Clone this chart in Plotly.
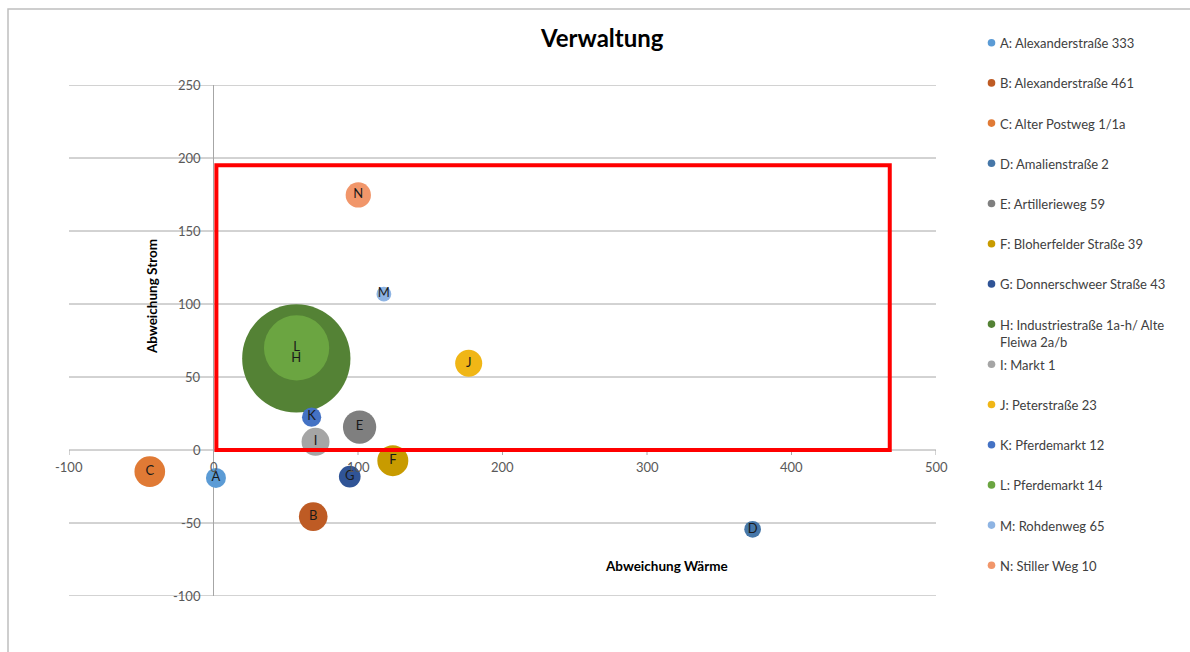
import textwrap
import plotly.graph_objects as go

# Verwaltungsgebäude: Abweichung Wärme (x), Abweichung Strom (y), Blasengröße
kuerzel = list("ABCDEFGHIJKLMN")
namen = [
    "A: Alexanderstraße 333",
    "B: Alexanderstraße 461",
    "C: Alter Postweg 1/1a",
    "D: Amalienstraße 2",
    "E: Artillerieweg 59",
    "F: Bloherfelder Straße 39",
    "G: Donnerschweer Straße 43",
    "H: Industriestraße 1a-h/ Alte Fleiwa 2a/b",
    "I: Markt 1",
    "J: Peterstraße 23",
    "K: Pferdemarkt 12",
    "L: Pferdemarkt 14",
    "M: Rohdenweg 65",
    "N: Stiller Weg 10",
]
abweichung_waerme = [1.7, 69.0, -44.1, 373.1, 101.1, 124.1, 94.3, 57.3, 70.6, 176.6, 67.9, 57.5, 117.9, 100.2]
abweichung_strom = [-19.1, -45.6, -14.8, -54.3, 15.7, -7.3, -18.2, 62.7, 5.6, 59.4, 22.5, 69.9, 106.8, 174.7]
groesse = [40, 82, 94, 28, 111, 96, 47, 1173, 78, 73, 37, 426, 22, 64]
farben = [
    "#5B9BD5", "#BE5B24", "#E07A35", "#4677A8", "#7F7F7F", "#C89B00", "#305496",
    "#548235", "#A5A5A5", "#F0B616", "#4472C4", "#6BA541", "#8EB4E3", "#F1966A",
]

x_ticks = [-100, 0, 100, 200, 300, 400, 500]
y_ticks = [-100, -50, 0, 50, 100, 150, 200, 250]

# Zielbereich (rot umrandet)
ziel_x = (2, 468)
ziel_y = (0, 195)

W, H = 1190, 652
PL, PR, PT, PB = 69, 936, 85, 596  # plot area in pixels


def px_x(px):
    return (px - PL) / (PR - PL)


def px_y(py):
    return (PB - py) / (PB - PT)


FONT = "Lato, Carlito, Calibri, sans-serif"
GRID = "#A6A6A6"

fig = go.Figure()
fig.add_trace(go.Scatter(
    x=abweichung_waerme,
    y=abweichung_strom,
    mode="markers+text",
    text=kuerzel,
    textposition="middle center",
    textfont=dict(family=FONT, size=13, color="#1A1A1A"),
    marker=dict(
        size=groesse,
        sizemode="area",
        sizeref=0.2,
        color=farben,
        opacity=1,
        line=dict(width=0),
    ),
    hovertext=namen,
    showlegend=False,
    cliponaxis=False,
))

annotations = []
shapes = []

# Horizontale Gitterlinien über die volle Breite
for v in y_ticks:
    shapes.append(dict(
        type="line", xref="x", yref="y", x0=x_ticks[0], x1=x_ticks[-1], y0=v, y1=v,
        line=dict(color=GRID, width=1), layer="below",
    ))

# Achsenbeschriftungen an der Nulllinie
for v in y_ticks:
    annotations.append(dict(
        x=0, y=v, xref="x", yref="y", text=str(v), showarrow=False,
        xanchor="right", yanchor="middle", xshift=-11,
        font=dict(family=FONT, size=13, color="#595959"),
    ))
for v in x_ticks:
    annotations.append(dict(
        x=v, y=0, xref="x", yref="y", text=str(v), showarrow=False,
        xanchor="center", yanchor="middle", yshift=-17,
        font=dict(family=FONT, size=13, color="#595959"),
    ))
    shapes.append(dict(
        type="line", xref="x", yref="y", x0=v, x1=v,
        ysizemode="pixel", yanchor=0, y0=0, y1=-5,
        line=dict(color=GRID, width=1), layer="below",
    ))

# Titel und Achsentitel
annotations.append(dict(
    x=px_x(602), y=px_y(38), xref="paper", yref="paper", text="<b>Verwaltung</b>",
    showarrow=False, xanchor="center", yanchor="middle",
    font=dict(family=FONT, size=24, color="#000000"),
))
annotations.append(dict(
    x=px_x(152), y=px_y(297), xref="paper", yref="paper", text="<b>Abweichung Strom</b>",
    showarrow=False, textangle=-90, xanchor="center", yanchor="middle",
    font=dict(family=FONT, size=13.5, color="#000000"),
))
annotations.append(dict(
    x=px_x(666), y=px_y(566), xref="paper", yref="paper", text="<b>Abweichung Wärme</b>",
    showarrow=False, xanchor="center", yanchor="middle",
    font=dict(family=FONT, size=13.5, color="#000000"),
))

# Legende
for i, (name, farbe) in enumerate(zip(namen, farben)):
    cy = 42.7 + 40.2 * i
    shapes.append(dict(
        type="circle", xref="paper", yref="paper",
        xsizemode="pixel", ysizemode="pixel",
        xanchor=px_x(991.5), yanchor=px_y(cy),
        x0=-3.8, x1=3.8, y0=-3.8, y1=3.8,
        fillcolor=farbe, line=dict(width=0),
    ))
    zeilen = textwrap.wrap(name, 29)
    annotations.append(dict(
        x=px_x(998), y=px_y(cy - 9.5), xref="paper", yref="paper",
        text="<br>".join(zeilen), showarrow=False, align="left",
        xanchor="left", yanchor="top",
        font=dict(family=FONT, size=13, color="#404040"),
    ))

# Zielbereich
shapes.append(dict(
    type="rect", xref="x", yref="y",
    x0=ziel_x[0], x1=ziel_x[1], y0=ziel_y[0], y1=ziel_y[1],
    line=dict(color="#FF0000", width=4), layer="above",
))

# Diagrammrahmen
shapes.append(dict(
    type="rect", xref="paper", yref="paper",
    x0=px_x(8), x1=px_x(1300), y0=px_y(9), y1=px_y(800),
    line=dict(color="#BFBFBF", width=1.5), layer="below",
))

fig.update_layout(
    width=W, height=H,
    margin=dict(l=PL, r=W - PR, t=PT, b=H - PB, pad=0),
    paper_bgcolor="white",
    plot_bgcolor="white",
    xaxis=dict(
        range=[-100, 500], showgrid=False, showticklabels=False, ticks="",
        zeroline=True, zerolinecolor=GRID, zerolinewidth=1, showline=False,
    ),
    yaxis=dict(
        range=[-100, 250], showgrid=False,
        showticklabels=False, ticks="",
        zeroline=False, showline=False,
    ),
    annotations=annotations,
    shapes=shapes,
    showlegend=False,
)

fig.write_html("out.html")
